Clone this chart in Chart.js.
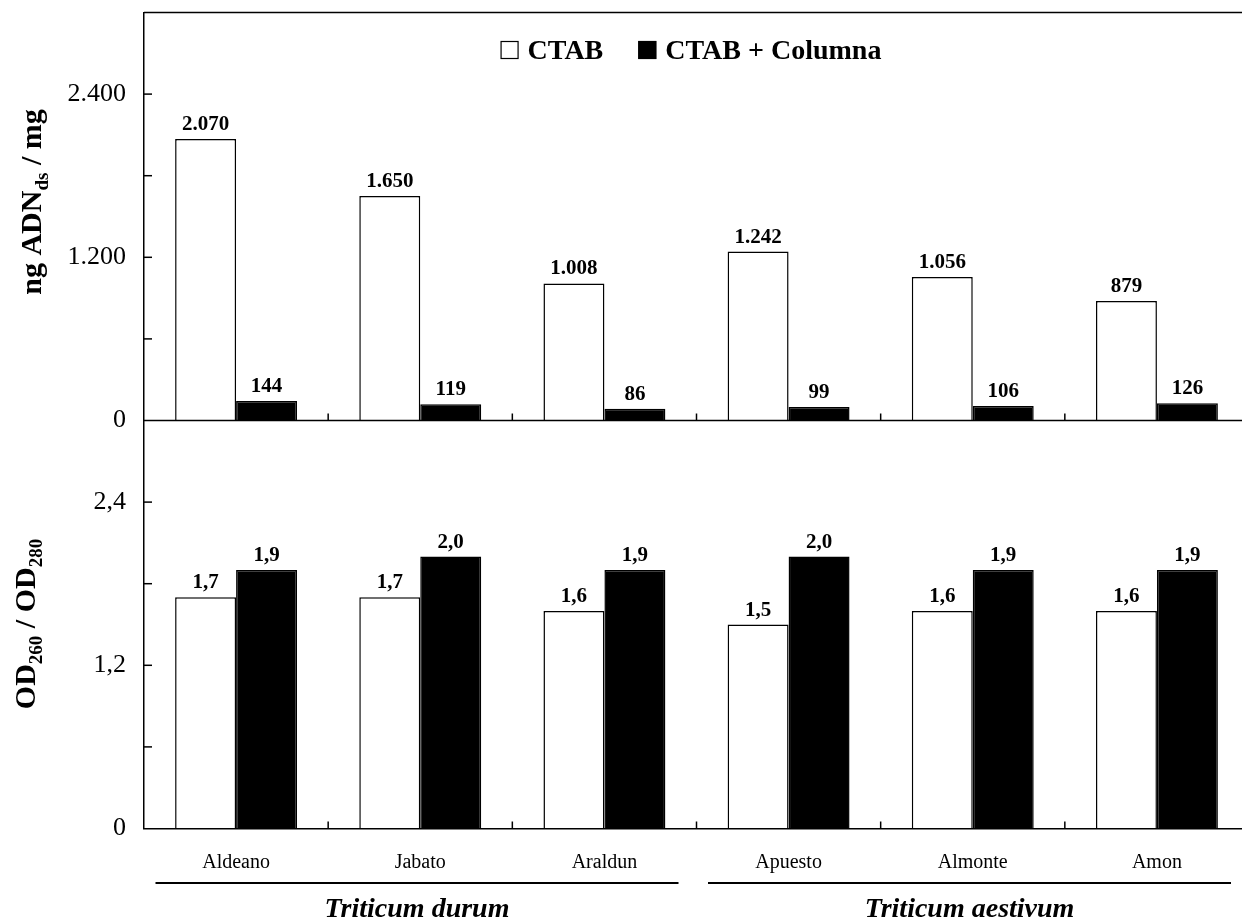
<!DOCTYPE html>
<html>
<head>
<meta charset="utf-8">
<script src="https://cdn.jsdelivr.net/npm/chart.js@4/dist/chart.umd.min.js"></script>
<style>
  html, body { margin: 0; padding: 0; background: #fff; overflow: hidden; }
  #wrap { width: 1242px; height: 922px; overflow: hidden; position: relative; }
  canvas { display: block; }
</style>
</head>
<body>
<div id="wrap"><canvas id="c" width="1250" height="922"></canvas></div>
<script>
// Cultivars, grouped by wheat species
const cultivars = ['Aldeano', 'Jabato', 'Araldun', 'Apuesto', 'Almonte', 'Amon'];
const species = ['Triticum durum', 'Triticum aestivum'];
const speciesSpan = [[0, 2], [3, 5]];

// Extraction methods
const methods = ['CTAB', 'CTAB + Columna'];

// DNA yield (ng dsDNA per mg of tissue)
const yieldCtab = [2070, 1650, 1008, 1242, 1056, 879];
const yieldColumn = [144, 119, 86, 99, 106, 126];

// Purity ratio OD260 / OD280
const ratioCtab = [1.7, 1.7, 1.6, 1.5, 1.6, 1.6];
const ratioColumn = [1.9, 2.0, 1.9, 2.0, 1.9, 1.9];

// Labelled ticks on each value axis
const yieldTicks = [0, 1200, 2400];
const yieldTickLabels = ['0', '1.200', '2.400'];
const ratioTicks = [0, 1.2, 2.4];
const ratioTickLabels = ['0', '1,2', '2,4'];

const SERIF = '"Liberation Serif", "Times New Roman", Times, serif';

const fmtYield = v => String(v).replace(/\B(?=(\d{3})+(?!\d))/g, '.');
const fmtRatio = v => v.toFixed(1).replace('.', ',');

function pickLabel(values, labels, v) {
  const i = values.findIndex(t => Math.abs(t - v) < 1e-9);
  return i < 0 ? '' : labels[i];
}

function seg(ctx, x1, y1, x2, y2) {
  ctx.beginPath();
  ctx.moveTo(x1, y1);
  ctx.lineTo(x2, y2);
  ctx.stroke();
}

// Draws text with subscripts, rotated to read bottom-to-top
function drawRotatedTitle(ctx, parts, cx, cy, size) {
  ctx.save();
  ctx.translate(cx, cy);
  ctx.rotate(-Math.PI / 2);
  ctx.fillStyle = '#000';
  ctx.textBaseline = 'alphabetic';
  ctx.textAlign = 'left';
  const subSize = Math.round(size * 0.62);
  let total = 0;
  parts.forEach(p => {
    ctx.font = 'bold ' + (p.sub ? subSize : size) + 'px ' + SERIF;
    p.w = ctx.measureText(p.t).width;
    total += p.w;
  });
  let x = -total / 2;
  parts.forEach(p => {
    ctx.font = 'bold ' + (p.sub ? subSize : size) + 'px ' + SERIF;
    ctx.fillText(p.t, x, p.sub ? size * 0.22 : 0);
    x += p.w;
  });
  ctx.restore();
}

const decorPlugin = {
  id: 'decor',
  afterDatasetsDraw(chart) {
    const ctx = chart.ctx;
    const a = chart.chartArea;
    const xs = chart.scales.x;
    const yT = chart.scales.yTop;
    const yB = chart.scales.yBottom;
    const zeroTop = yT.getPixelForValue(0);

    ctx.save();
    ctx.strokeStyle = '#000';
    ctx.lineWidth = 1.5;

    // frame top and divider between the two panels
    seg(ctx, a.left, a.top, a.right, a.top);
    seg(ctx, a.left, zeroTop, a.right, zeroTop);

    // inward tick marks between cultivars
    for (let i = 0; i < cultivars.length - 1; i++) {
      const bx = (xs.getPixelForValue(i) + xs.getPixelForValue(i + 1)) / 2;
      seg(ctx, bx, zeroTop, bx, zeroTop - 7);
      seg(ctx, bx, a.bottom, bx, a.bottom - 7);
    }

    // inward tick marks on both value axes
    [yT, yB].forEach(s => {
      s.ticks.forEach(t => {
        if (t.value > 0 && t.value < s.max - 1e-9) {
          const py = s.getPixelForValue(t.value);
          seg(ctx, a.left, py, a.left + 8, py);
        }
      });
    });

    // value labels above bars
    ctx.fillStyle = '#000';
    ctx.font = 'bold 21px ' + SERIF;
    ctx.textAlign = 'center';
    ctx.textBaseline = 'alphabetic';
    chart.data.datasets.forEach((ds, di) => {
      const meta = chart.getDatasetMeta(di);
      const fmt = ds.yAxisID === 'yTop' ? fmtYield : fmtRatio;
      meta.data.forEach((el, i) => {
        ctx.fillText(fmt(ds.data[i]), el.x, el.y - 9);
      });
    });
    ctx.restore();
  },
  afterDraw(chart) {
    const ctx = chart.ctx;
    const xs = chart.scales.x;
    const step = xs.getPixelForValue(1) - xs.getPixelForValue(0);

    ctx.save();
    // legend
    ctx.font = 'bold 28px ' + SERIF;
    ctx.textBaseline = 'alphabetic';
    ctx.textAlign = 'left';
    const sq = 18, gapIn = 9, gapOut = 35;
    const items = [chart.data.datasets[0], chart.data.datasets[1]];
    const widths = items.map(d => ctx.measureText(d.label).width);
    const totalW = items.length * (sq + gapIn) + widths[0] + widths[1] + gapOut;
    let lx = 691 - totalW / 2;
    const base = 59;
    items.forEach((d, i) => {
      ctx.fillStyle = d.backgroundColor;
      ctx.fillRect(lx, base - sq, sq, sq);
      ctx.strokeStyle = '#000';
      ctx.lineWidth = 1.2;
      ctx.strokeRect(lx + 0.5, base - sq + 0.5, sq - 1, sq - 1);
      lx += sq + gapIn;
      ctx.fillStyle = '#000';
      ctx.fillText(d.label, lx, base);
      lx += widths[i] + gapOut;
    });

    // species brackets under the cultivar names
    ctx.strokeStyle = '#000';
    ctx.lineWidth = 2;
    ctx.fillStyle = '#000';
    ctx.textAlign = 'center';
    ctx.font = 'italic bold 28px ' + SERIF;
    species.forEach((name, k) => {
      const [i0, i1] = speciesSpan[k];
      const x0 = xs.getPixelForValue(i0) - step / 2 + 11.5;
      const x1 = xs.getPixelForValue(i1) + step / 2 - 18;
      seg(ctx, x0, 883, x1, 883);
      ctx.fillText(name, (x0 + x1) / 2, 917);
    });
    ctx.restore();

    // value axis titles
    drawRotatedTitle(ctx, [{t: 'ng ADN'}, {t: 'ds', sub: true}, {t: ' / mg'}], 41, 202, 30);
    drawRotatedTitle(ctx, [{t: 'OD'}, {t: '260', sub: true}, {t: ' / OD'}, {t: '280', sub: true}], 35, 624, 30);
  }
};

const barStyle = (fill) => ({
  backgroundColor: fill,
  borderColor: '#000',
  borderWidth: 1.5,
  categoryPercentage: 0.662,
  barPercentage: 1.0
});

function fixVertical(s) {
  s.width = 144;
  s.paddingTop = 0;
  s.paddingBottom = 0;
}

new Chart(document.getElementById('c'), {
  type: 'bar',
  data: {
    labels: cultivars,
    datasets: [
      Object.assign({label: methods[0], data: yieldCtab, yAxisID: 'yTop', stack: 'm0'}, barStyle('#ffffff')),
      Object.assign({label: methods[1], data: yieldColumn, yAxisID: 'yTop', stack: 'm1'}, barStyle('#000000')),
      Object.assign({label: methods[0], data: ratioCtab, yAxisID: 'yBottom', stack: 'm0'}, barStyle('#ffffff')),
      Object.assign({label: methods[1], data: ratioColumn, yAxisID: 'yBottom', stack: 'm1'}, barStyle('#000000'))
    ]
  },
  options: {
    responsive: false,
    animation: false,
    devicePixelRatio: 1,
    layout: { padding: { top: 12.5, right: 1, left: 0, bottom: 0 } },
    plugins: { legend: { display: false }, tooltip: { enabled: false } },
    scales: {
      x: {
        type: 'category',
        offset: true,
        grid: { display: true, drawOnChartArea: false, drawTicks: false },
        border: { display: true, color: '#000', width: 1.5 },
        ticks: { color: '#000', font: { family: SERIF, size: 20 }, padding: 22, maxRotation: 0, autoSkip: false },
        afterFit(s) { s.height = 93.5; s.paddingLeft = 0; s.paddingRight = 0; }
      },
      yBottom: {
        type: 'linear',
        position: 'left',
        stack: 'panels',
        stackWeight: 1,
        stacked: false,
        min: 0,
        max: 3,
        grid: { display: true, drawOnChartArea: false, drawTicks: false },
        border: { display: true, color: '#000', width: 1.5 },
        ticks: {
          stepSize: 0.6,
          color: '#000',
          padding: 18,
          font: { family: SERIF, size: 26 },
          callback: v => pickLabel(ratioTicks, ratioTickLabels, v)
        },
        afterFit: fixVertical
      },
      yTop: {
        type: 'linear',
        position: 'left',
        stack: 'panels',
        stackWeight: 1,
        stacked: false,
        min: 0,
        max: 3000,
        grid: { display: true, drawOnChartArea: false, drawTicks: false },
        border: { display: true, color: '#000', width: 1.5 },
        ticks: {
          stepSize: 600,
          color: '#000',
          padding: 18,
          font: { family: SERIF, size: 26 },
          callback: v => pickLabel(yieldTicks, yieldTickLabels, v)
        },
        afterFit: fixVertical
      }
    }
  },
  plugins: [decorPlugin]
});
</script>
</body>
</html>
